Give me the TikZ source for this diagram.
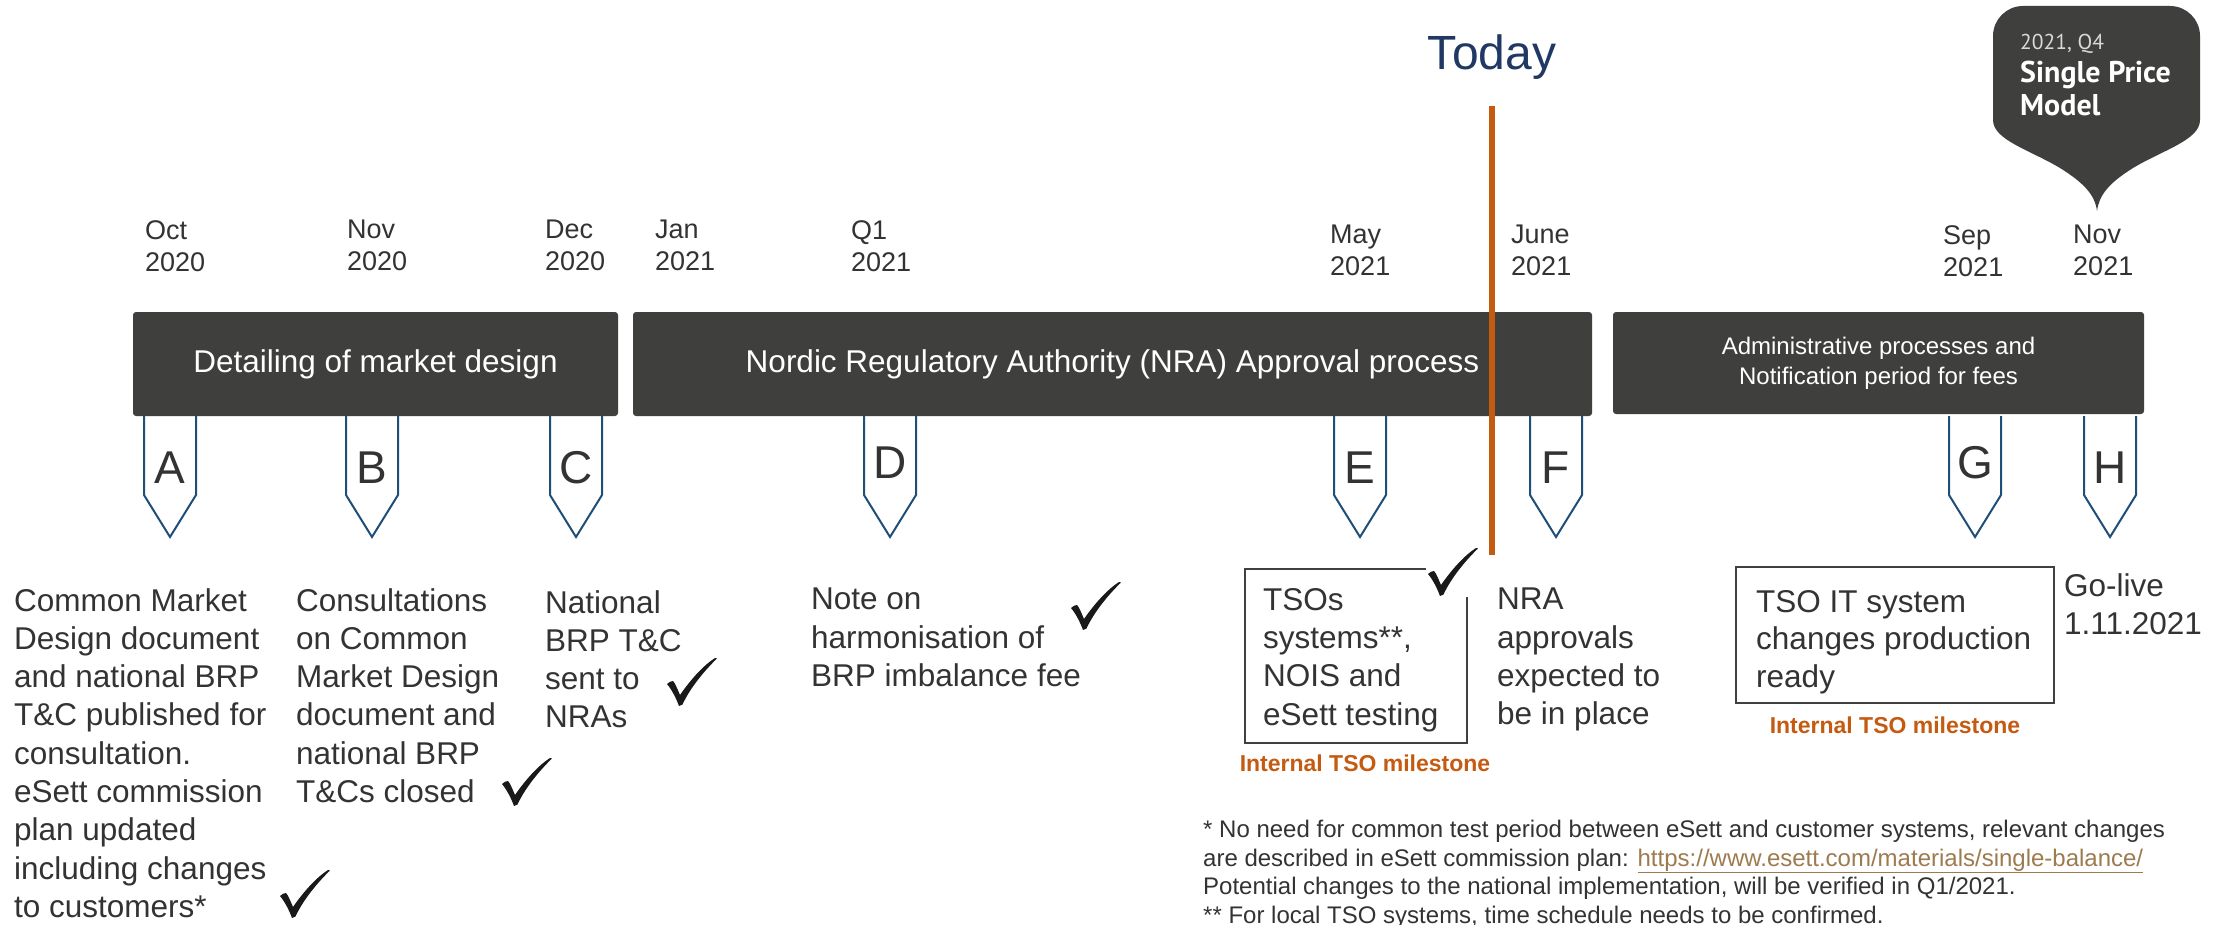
\documentclass[tikz,border=0pt]{standalone}
\usepackage{fontspec}
\setmainfont{Liberation Sans}
\newfontfamily\cofont{PT Sans}
\definecolor{barfill}{HTML}{3F3F3D}
\definecolor{txtgray}{HTML}{333333}
\definecolor{mkblue}{HTML}{1F4E79}
\definecolor{todayblue}{HTML}{1F3864}
\definecolor{orangec}{HTML}{C55A11}
\definecolor{urlc}{HTML}{9E7B4F}
\definecolor{boxgray}{HTML}{404040}
\definecolor{lightg}{HTML}{D9D9D9}
\begin{document}
\begin{tikzpicture}[x=1pt,y=-1pt,
  lbl/.style={font=\fontsize{27}{32}\selectfont, text=txtgray, align=left, anchor=north west, inner sep=0pt},
  body/.style={font=\fontsize{31.5}{38.3}\selectfont, text=txtgray, align=left, anchor=north west, inner sep=0pt},
  foot/.style={font=\fontsize{24}{28.5}\selectfont, text=txtgray, align=left, anchor=north west, inner sep=0pt},
  bar/.style={fill=barfill, rounded corners=3pt, text=white, inner sep=0pt, font=\fontsize{31.5}{38}\selectfont},
  mk/.style={draw=mkblue, line width=2pt, line join=miter},
  mkl/.style={font=\fontsize{46}{46}\selectfont, text=txtgray, inner sep=0pt},
  milestone/.style={font=\bfseries\fontsize{23}{28}\selectfont, text=orangec, inner sep=0pt, anchor=north},
  ebox/.style={draw=boxgray, line width=2pt},
  todayline/.style={draw=orangec, line width=6pt},
  checkmk/.pic={
    \fill[black!90] (0,26) .. controls (2,24) and (4,23) .. (6,23) .. controls (8,25) and (10,30) .. (13,37)
      .. controls (24,21) and (37,7) .. (48,0) -- (50,0.5)
      .. controls (38,12) and (23,30) .. (15.5,46.5) -- (12,48) .. controls (9,40) and (5,32) .. (0,26) -- cycle;
  }
]
\useasboundingbox (0,0) rectangle (2224,925);
\fill[white] (0,0) rectangle (2224,925);

% month labels
\node[lbl] (mOct) at (145,220) {Oct\\2020};
\node[lbl] (mNov) at (347,220) {Nov\\2020};
\node[lbl] (mDec) at (545,220) {Dec\\2020};
\node[lbl] (mJan) at (655,220) {Jan\\2021};
\node[lbl] (mQ1) at (851,220) {Q1\\2021};
\node[lbl] (mMay) at (1330,225) {May\\2021};
\node[lbl] (mJun) at (1511,225) {June\\2021};
\node[lbl] (mSep) at (1943,225) {Sep\\2021};
\node[lbl] (mNov2) at (2073,225) {Nov\\2021};

% bars
\node[bar, minimum width=485pt, minimum height=104pt] (bar1) at (375.5,364) {Detailing of market design};
\node[bar, minimum width=959pt, minimum height=104pt] (bar2) at (1112.5,364) {Nordic Regulatory Authority (NRA) Approval process};
\node[bar, minimum width=531pt, minimum height=102pt, align=center, font=\fontsize{24}{30}\selectfont] (bar3) at (1878.5,363) {Administrative processes and\\Notification period for fees};

% markers
\foreach \x/\l/\n/\dy in {170/A/mkA/0, 372/B/mkB/0, 576/C/mkC/0, 890/D/mkD/-5, 1360/E/mkE/0, 1556/F/mkF/0, 1975/G/mkG/-5, 2110/H/mkH/0}{
  \draw[mk] (\x-26,416) -- (\x-26,495) -- (\x,537) -- (\x+26,495) -- (\x+26,416);
  \node[mkl] (\n) at (\x,468+\dy) {\l};
}

% today
\node[font=\fontsize{48}{48}\selectfont, text=todayblue, anchor=base, inner sep=0pt] (today) at (1492,70) {Today};
\coordinate (tTop) at (1492,106);
\coordinate (tBot) at (1492,555);
\draw[todayline] (tTop) -- (tBot);

% callout
\fill[barfill] (2097,211) .. controls (2099,195) and (2109,183) .. (2133,168)
  .. controls (2163,150) and (2200,140) .. (2200,120)
  [rounded corners=30pt] -- (2200,6) -- (1993,6) [sharp corners] -- (1993,120)
  .. controls (1993,140) and (2030,150) .. (2060,168)
  .. controls (2084,183) and (2095,195) .. (2097,211) -- cycle;
\node[anchor=north west, inner sep=0pt, text=lightg, font=\cofont\fontsize{21.5}{24}\selectfont] (coyear) at (2020,34) {2021, Q4};
\node[anchor=north west, inner sep=0pt, text=white, align=left, font=\cofont\bfseries\fontsize{30}{32.5}\selectfont] (cotitle) at (2020,61) {Single Price\\Model};

% descriptions
\node[body] (tA) at (14,588) {Common Market\\Design document\\and national BRP\\T\&C published for\\consultation.\\eSett commission\\plan updated\\including changes\\to customers*};
\node[body] (tB) at (296,588) {Consultations\\on Common\\Market Design\\document and\\national BRP\\T\&Cs closed};
\node[body] (tC) at (545,590) {National\\BRP T\&C\\sent to\\NRAs};
\node[body] (tD) at (811,588) {Note on\\harmonisation of\\BRP imbalance fee};

% E box
\draw[ebox] (1426,569) -- (1245,569) -- (1245,743) -- (1467,743) -- (1467,597);
\node[body] (tE) at (1263,588) {TSOs\\systems**,\\NOIS and\\eSett testing};
\node[milestone] (msE) at (1365,755) {Internal TSO milestone};

\node[body] (tF) at (1497,588) {NRA\\approvals\\expected to\\be in place};

% G box
\draw[ebox] (1736,567) rectangle (2054,703);
\node[body, font=\fontsize{31.5}{37.5}\selectfont] (tG) at (1756,590) {TSO IT system\\changes production\\ready};
\node[milestone] (msG) at (1895,717) {Internal TSO milestone};

\node[body] (tH) at (2064,573) {Go-live\\1.11.2021};

% checks
\pic at (280,870) {checkmk};
\pic at (502,758) {checkmk};
\pic at (667,658) {checkmk};
\pic at (1071,582) {checkmk};
\pic at (1428,548) {checkmk};

% footnote
\node[foot] (fn) at (1203,820) {* No need for common test period between eSett and customer systems, relevant changes\\are described in eSett commission plan: \textcolor{urlc}{\underline{https://www.esett.com/materials/single-balance/}}\\Potential changes to the national implementation, will be verified in Q1/2021.\\** For local TSO systems, time schedule needs to be confirmed.};
\end{tikzpicture}
\end{document}
